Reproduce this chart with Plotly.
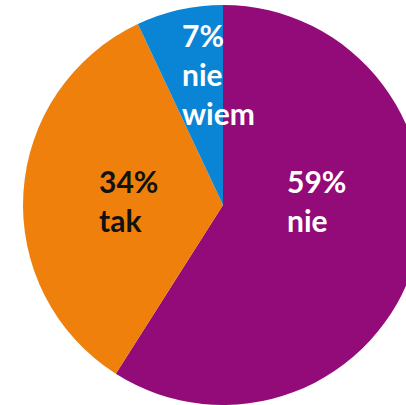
import plotly.graph_objects as go

labels = ["nie", "tak", "nie wiem"]
values = [59, 34, 7]
colors = ["#930A79", "#EF800B", "#0A85D5"]
text_colors = ["#FFFFFF", "#111111", "#FFFFFF"]
label_lines = ["nie", "tak", "nie<br>wiem"]

fig = go.Figure(
    go.Pie(
        labels=labels,
        values=values,
        sort=False,
        direction="clockwise",
        rotation=0,
        marker=dict(colors=colors, line=dict(width=0)),
        textinfo="none",
        hoverinfo="label+percent",
        showlegend=False,
    )
)

# label blocks placed by hand, left aligned like the original
label_pos = [(0.655, 0.5125), (0.185, 0.5125), (0.3925, 0.8275)]
for (x, y), v, t, c in zip(label_pos, values, label_lines, text_colors):
    fig.add_annotation(
        x=x, y=y, xref="paper", yref="paper",
        xanchor="left", yanchor="middle", align="left",
        text=f"{v}%<br>{t}",
        showarrow=False,
        font=dict(family="Lato", size=30, color=c, weight="bold"),
    )

fig.update_layout(
    width=446,
    height=410,
    margin=dict(l=23, r=23, t=5, b=5),
    paper_bgcolor="white",
    plot_bgcolor="white",
)

fig.write_html(
    "out.html",
    config={"displayModeBar": False},
    post_script="document.body.style.margin='0';document.body.style.overflow='hidden';",
)
